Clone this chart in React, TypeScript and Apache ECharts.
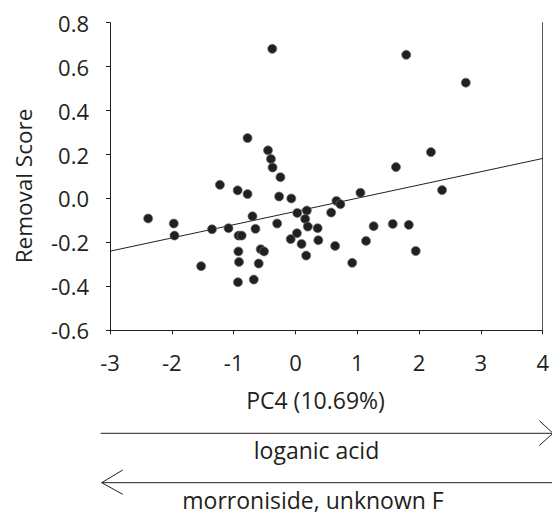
import React, { useEffect, useRef } from "react";
import * as echarts from "echarts";

const pcScores: number[] = [
  -0.375, -0.775, -0.444, -0.396, -0.37, -0.243, -1.222, -0.935, -0.775, -0.264,
  -0.067, 1.792, 2.756, 2.192, 1.626, 2.372, 1.051, 0.663, 0.727, 0.578,
  -2.383, -1.968, -1.957, -1.35, -1.083, -0.92, -0.87, -0.695, -0.647, -0.296,
  0.029, 0.184, 0.157, 0.2, 0.359, 0.024, -0.077, 0.099, 0.37, 0.173,
  -0.923, -0.913, -0.562, -0.508, -0.594, -1.526, -0.93, -0.674, 1.265, 1.574,
  1.834, 1.142, 0.642, 0.918, 1.946,
];
const removalScores: number[] = [
  0.681, 0.275, 0.219, 0.18, 0.141, 0.097, 0.062, 0.037, 0.02, 0.009,
  0.0, 0.654, 0.527, 0.211, 0.143, 0.038, 0.026, -0.011, -0.026, -0.064,
  -0.091, -0.114, -0.169, -0.14, -0.135, -0.169, -0.169, -0.081, -0.138, -0.114,
  -0.066, -0.055, -0.093, -0.128, -0.135, -0.158, -0.185, -0.207, -0.19, -0.26,
  -0.241, -0.289, -0.231, -0.241, -0.296, -0.308, -0.381, -0.369, -0.126, -0.116,
  -0.12, -0.193, -0.216, -0.293, -0.239,
];
const trendX: number[] = [-3, 4];
const trendY: number[] = [-0.24, 0.182];

const xTitle = "PC4 (10.69%)";
const yTitle = "Removal Score";
const arrowRightLabel = "loganic acid";
const arrowLeftLabel = "morroniside, unknown F";

const FONT = "'Open Sans', sans-serif";
const INK = "#231f20";

export default function App() {
  const ref = useRef<HTMLDivElement>(null);
  useEffect(() => {
    if (!ref.current) return;
    const chart = echarts.init(ref.current, undefined, { renderer: "svg" });
    const points = pcScores.map((x, i) => [x, removalScores[i]]);
    const trend = trendX.map((x, i) => [x, trendY[i]]);
    const axisText = { color: INK, fontFamily: FONT, fontSize: 22 };
    chart.setOption({
      animation: false,
      backgroundColor: "#ffffff",
      grid: { left: 110, right: 2.5, top: 22.7, bottom: 182.7 },
      xAxis: {
        type: "value",
        min: -3,
        max: 4,
        interval: 1,
        axisLine: { show: true, onZero: false, lineStyle: { color: INK, width: 1 } },
        axisTick: { show: true, length: 4, lineStyle: { color: INK } },
        axisLabel: { ...axisText, margin: 21 },
        splitLine: { show: false },
      },
      yAxis: [
        {
          type: "value",
          min: -0.6,
          max: 0.8,
          interval: 0.2,
          axisLine: { show: true, onZero: false, lineStyle: { color: INK, width: 1 } },
          axisTick: { show: true, length: 4, lineStyle: { color: INK } },
          axisLabel: {
            ...axisText,
            margin: 21,
            formatter: (v: number) => v.toFixed(1),
          },
          splitLine: { show: false },
        },
        {
          type: "value",
          position: "right",
          min: -0.6,
          max: 0.8,
          interval: 0.2,
          axisLine: { show: true, onZero: false, lineStyle: { color: "#555", width: 1 } },
          axisTick: { show: false },
          axisLabel: { show: false },
          splitLine: { show: false },
        },
      ],
      series: [
        {
          type: "line",
          data: trend,
          showSymbol: false,
          symbol: "none",
          lineStyle: { color: INK, width: 1 },
          silent: true,
          z: 1,
        },
        {
          type: "scatter",
          data: points,
          symbol: "circle",
          symbolSize: 9,
          itemStyle: { color: INK, borderColor: "#6e6e6e", borderWidth: 0.7, opacity: 1 },
          z: 2,
        },
      ],
      graphic: [
        {
          type: "text",
          x: 23,
          y: 186,
          rotation: Math.PI / 2,
          style: {
            text: yTitle,
            fill: INK,
            font: `22.5px ${FONT}`,
            textAlign: "center",
            textVerticalAlign: "middle",
          },
        },
        {
          type: "text",
          x: 315.5,
          y: 400,
          style: {
            text: xTitle,
            fill: INK,
            font: `23px ${FONT}`,
            textAlign: "center",
            textVerticalAlign: "middle",
          },
        },
        {
          type: "line",
          shape: { x1: 100.7, y1: 433.3, x2: 552, y2: 433.3 },
          style: { stroke: INK, lineWidth: 1 },
        },
        {
          type: "polyline",
          shape: { points: [[539.3, 420.7], [553, 433.3], [539.3, 445.5]] },
          style: { stroke: INK, lineWidth: 1, fill: "none" },
        },
        {
          type: "text",
          x: 316.5,
          y: 450,
          style: {
            text: arrowRightLabel,
            fill: INK,
            font: `23px ${FONT}`,
            textAlign: "center",
            textVerticalAlign: "middle",
          },
        },
        {
          type: "line",
          shape: { x1: 101.7, y1: 482.7, x2: 552, y2: 482.7 },
          style: { stroke: INK, lineWidth: 1 },
        },
        {
          type: "polyline",
          shape: { points: [[122.7, 470], [101.7, 482.7], [122.7, 494.3]] },
          style: { stroke: INK, lineWidth: 1, fill: "none" },
        },
        {
          type: "text",
          x: 313,
          y: 500,
          style: {
            text: arrowLeftLabel,
            fill: INK,
            font: `23px ${FONT}`,
            textAlign: "center",
            textVerticalAlign: "middle",
          },
        },
      ],
    });
    return () => chart.dispose();
  }, []);
  return <div ref={ref} style={{ width: 552, height: 513, position: "fixed", left: 0, top: 0 }} />;
}
